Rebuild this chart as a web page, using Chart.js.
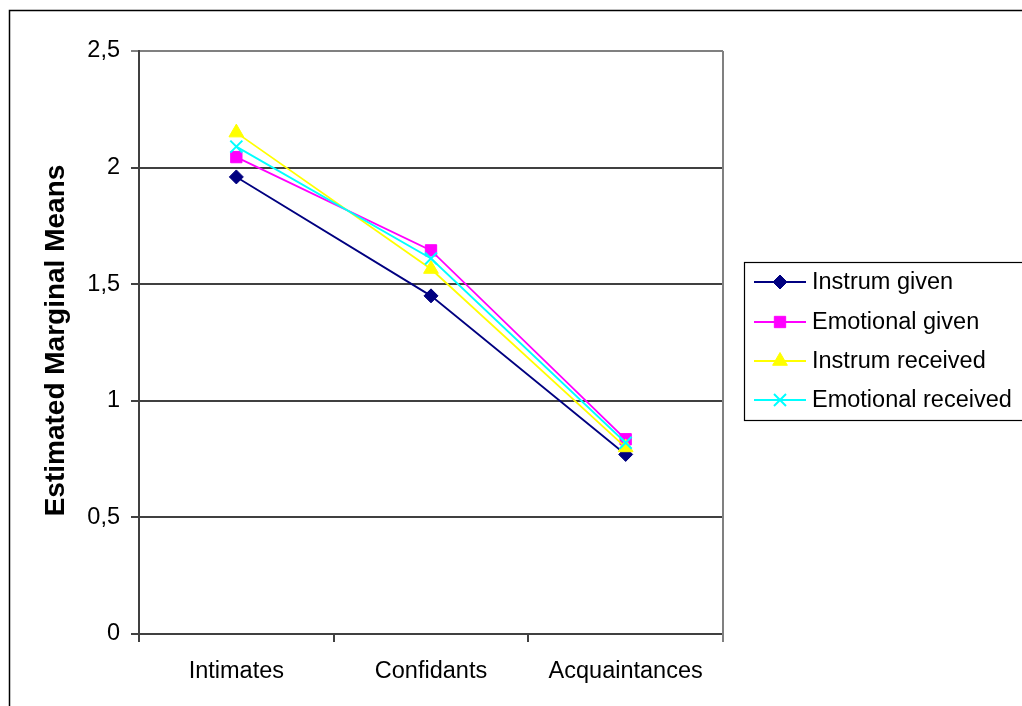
<!DOCTYPE html>
<html>
<head>
<meta charset="utf-8">
<script src="https://cdn.jsdelivr.net/npm/chart.js@4/dist/chart.umd.min.js"></script>
<style>
  html, body { margin: 0; padding: 0; background: #fff; }
  #wrap { width: 1022px; height: 706px; position: relative; }
</style>
</head>
<body>
<div id="wrap"><canvas id="c" width="1022" height="706"></canvas></div>
<script>
// Relationship categories on the x axis
const categories = ['Intimates', 'Confidants', 'Acquaintances'];

// Estimated marginal means per support type
const instrumGiven      = [1.96, 1.45, 0.77];
const emotionalGiven    = [2.045, 1.645, 0.835];
const instrumReceived   = [2.15, 1.565, 0.80];
const emotionalReceived = [2.09, 1.61, 0.82];

// Series names and y tick labels (decimal comma)
const seriesNames = ['Instrum given', 'Emotional given', 'Instrum received', 'Emotional received'];
const yTickLabels = ['0', '0,5', '1', '1,5', '2', '2,5'];
const yTickValues = [0, 0.5, 1, 1.5, 2, 2.5];
const yTitle = 'Estimated Marginal Means';

const FONT = '"Liberation Sans", Arial, sans-serif';

const styles = [
  { color: '#000080', point: 'rectRot', radius: 7 },
  { color: '#FF00FF', point: 'rect', radius: 8 },
  { color: '#FFFF00', point: 'triangle', radius: 8.5 },
  { color: '#00FFFF', point: 'crossRot', radius: 8.5 }
];
const seriesData = [instrumGiven, emotionalGiven, instrumReceived, emotionalReceived];

const datasets = seriesData.map((d, i) => ({
  label: seriesNames[i],
  data: d,
  borderColor: styles[i].color,
  backgroundColor: styles[i].color,
  pointBackgroundColor: styles[i].color,
  pointBorderColor: styles[i].color,
  pointStyle: styles[i].point,
  pointRadius: styles[i].radius,
  pointBorderWidth: i === 3 ? 2 : 1,
  borderWidth: 1.8,
  tension: 0,
  order: 3 - i
}));

// Outer frame, y title, plot frame (right edge) and the boxed legend
const decorations = {
  id: 'decorations',
  beforeDraw(chart) {
    const ctx = chart.ctx;
    ctx.save();
    ctx.fillStyle = '#fff';
    ctx.fillRect(0, 0, chart.width, chart.height);
    ctx.restore();
  },
  afterDraw(chart) {
    const ctx = chart.ctx;
    const a = chart.chartArea;
    ctx.save();
    // outer chart border
    ctx.strokeStyle = '#000';
    ctx.lineWidth = 1.5;
    ctx.beginPath();
    ctx.moveTo(9.5, chart.height + 2);
    ctx.lineTo(9.5, 10.5);
    ctx.lineTo(chart.width + 2, 10.5);
    ctx.stroke();

    // y axis title, rotated
    ctx.save();
    ctx.translate(56, (a.top + a.bottom) / 2 - 2);
    ctx.rotate(-Math.PI / 2);
    ctx.font = 'bold 28px ' + FONT;
    ctx.fillStyle = '#000';
    ctx.textAlign = 'center';
    ctx.textBaseline = 'middle';
    ctx.fillText(yTitle, 0, 0);
    ctx.restore();

    // right edge of plot area (gray)
    ctx.strokeStyle = '#808080';
    ctx.lineWidth = 2;
    ctx.beginPath();
    ctx.moveTo(a.right, a.top);
    ctx.lineTo(a.right, a.bottom + 8);
    ctx.stroke();

    // legend box
    const lx = 744.5, ly = 262.5, lw = 290, lh = 158;
    ctx.strokeStyle = '#000';
    ctx.lineWidth = 1.2;
    ctx.fillStyle = '#fff';
    ctx.fillRect(lx, ly, lw, lh);
    ctx.strokeRect(lx, ly, lw, lh);

    const rows = [282, 322, 361, 400];
    ctx.font = '23.5px ' + FONT;
    ctx.textBaseline = 'middle';
    chart.data.datasets.forEach((ds, i) => {
      const y = rows[i];
      ctx.strokeStyle = ds.borderColor;
      ctx.lineWidth = 1.8;
      ctx.beginPath();
      ctx.moveTo(754, y);
      ctx.lineTo(806, y);
      ctx.stroke();
      ctx.fillStyle = ds.pointBackgroundColor;
      ctx.strokeStyle = ds.pointBorderColor;
      ctx.lineWidth = ds.pointBorderWidth;
      Chart.helpers.drawPoint(ctx, {
        pointStyle: ds.pointStyle,
        radius: ds.pointRadius,
        borderWidth: ds.pointBorderWidth,
        rotation: 0
      }, 780, y);
      ctx.fillStyle = '#000';
      ctx.fillText(ds.label, 812, y + 1);
    });
    ctx.restore();
  }
};

new Chart(document.getElementById('c'), {
  type: 'line',
  data: { labels: categories, datasets },
  plugins: [decorations],
  options: {
    responsive: false,
    animation: false,
    devicePixelRatio: 1,
    layout: { padding: { left: 0, top: 51, right: 299, bottom: 0 } },
    plugins: {
      legend: { display: false },
      tooltip: { enabled: false },
      title: { display: false }
    },
    scales: {
      x: {
        offset: true,
        grid: {
          offset: true,
          drawOnChartArea: false,
          drawTicks: true,
          tickLength: 8,
          color: '#404040',
          lineWidth: 2
        },
        border: { display: true, color: '#404040', width: 2 },
        ticks: {
          color: '#000',
          font: { family: FONT, size: 23.5 },
          padding: 15,
          maxRotation: 0
        },
        afterFit(scale) { scale.height = 72; }
      },
      y: {
        min: 0,
        max: 2.5,
        afterBuildTicks(scale) {
          scale.ticks = yTickValues.map(v => ({ value: v }));
        },
        grid: {
          drawTicks: true,
          tickLength: 8,
          color(ctx) {
            return ctx.tick && ctx.tick.value === 2.5 ? '#808080' : '#404040';
          },
          lineWidth: 2
        },
        border: { display: true, color: '#404040', width: 2 },
        ticks: {
          color: '#000',
          font: { family: FONT, size: 23.5 },
          padding: 11,
          callback(value) {
            const i = yTickValues.indexOf(value);
            return i >= 0 ? yTickLabels[i] : '';
          }
        },
        afterFit(scale) { scale.width = 139; }
      }
    }
  }
});
</script>
</body>
</html>
